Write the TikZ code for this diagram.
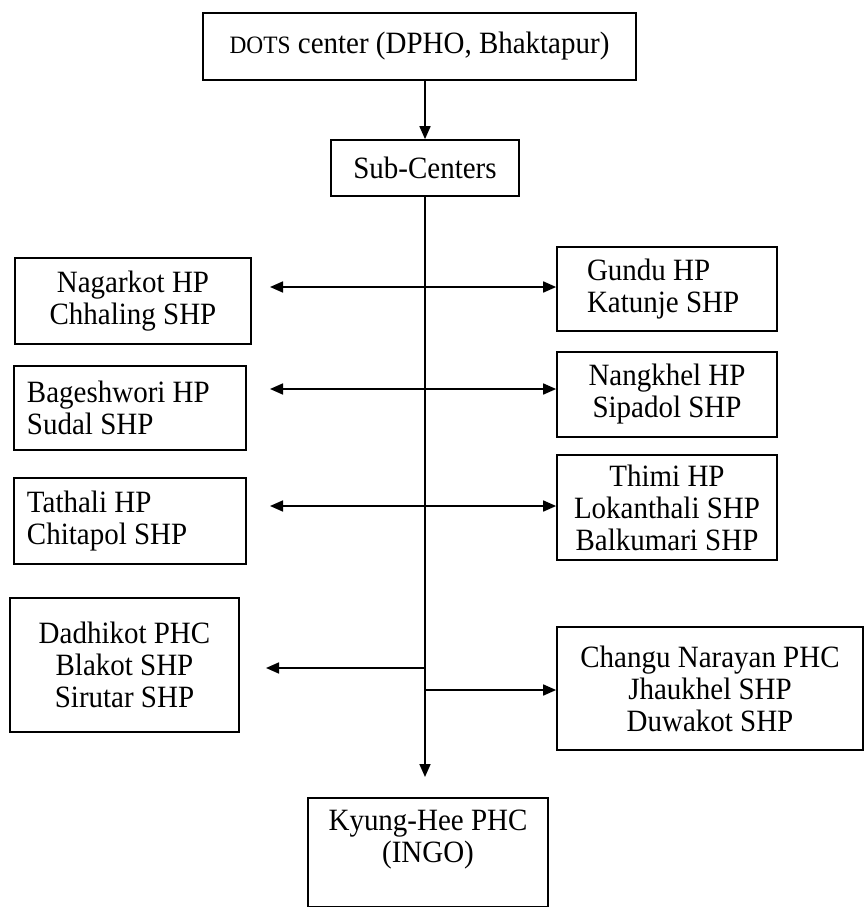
\documentclass[tikz,border=0pt]{standalone}
\usepackage{fontspec}
\setmainfont{Liberation Serif}[FakeStretch=0.935]
\usetikzlibrary{arrows.meta}
\begin{document}
\begin{tikzpicture}[x=1pt,y=-1pt,
  box/.style={draw, line width=1.7pt, rectangle, inner sep=0pt,
    font=\fontsize{31}{32}\selectfont, align=center},
  lbox/.style={box, align=flush left},
  link/.style={line width=1.7pt, -{Triangle[length=13pt,width=11pt]}},
  both/.style={line width=1.7pt, {Triangle[length=13pt,width=11pt]}-{Triangle[length=13pt,width=11pt]}}]
\useasboundingbox (0,0) rectangle (865,907);

% head office and sub-centres
\node[box, minimum width=433pt, minimum height=67pt] (dots) at (419.5,46.5)
  {{\fontsize{25}{26}\selectfont DOTS} center (DPHO, Bhaktapur)};
\node[box, minimum width=188pt, minimum height=56pt] (sub) at (425,168) {Sub-Centers};

% left column
\node[box, minimum width=236pt, minimum height=86pt] (nagarkot) at (133,301)
  {Nagarkot HP\\Chhaling SHP};
\node[lbox, text width=206pt, inner xsep=13pt, minimum height=84pt] (bageshwori) at (130,408)
  {Bageshwori HP\\Sudal SHP};
\node[lbox, text width=206pt, inner xsep=13pt, minimum height=86pt] (tathali) at (130,521)
  {Tathali HP\\Chitapol SHP};
\node[box, minimum width=229pt, minimum height=134pt] (dadhikot) at (124.5,665)
  {Dadhikot PHC\\Blakot SHP\\Sirutar SHP};

% right column
\node[lbox, text width=160pt, inner xsep=30pt, minimum height=84pt] (gundu) at (667,289)
  {Gundu HP\\Katunje SHP};
\node[box, minimum width=220pt, minimum height=85pt] (nangkhel) at (667,394.5)
  {Nangkhel HP\\Sipadol SHP};
\node[box, minimum width=220pt, minimum height=105pt] (thimi) at (667,507.5)
  {Thimi HP\\Lokanthali SHP\\Balkumari SHP};
\node[box, minimum width=306pt, minimum height=123pt] (changu) at (710,688.5)
  {Changu Narayan PHC\\Jhaukhel SHP\\Duwakot SHP};

% bottom
\node[box, minimum width=240pt, minimum height=109pt, anchor=north] (kyung) at (428,797)
  {Kyung-Hee PHC\\(INGO)\\\mbox{}};

% free ends of the connectors
\coordinate (r1) at (270,287);
\coordinate (r2) at (270,389);
\coordinate (r3) at (270,506);
\coordinate (ld) at (266,668);
\coordinate (jl) at (425,668);
\coordinate (jr) at (425,690);
\coordinate (tip) at (425,777);

% connectors
\draw[link] (dots.south -| sub.north) -- (sub.north);
\draw[line width=1.7pt] (sub.south) -- (jr);
\draw[link] (jr) -- (tip);
\draw[both] (r1) -- (r1 -| gundu.west);
\draw[both] (r2) -- (r2 -| nangkhel.west);
\draw[both] (r3) -- (r3 -| thimi.west);
\draw[link] (jl) -- (ld);
\draw[link] (jr) -- (jr -| changu.west);
\end{tikzpicture}
\end{document}
